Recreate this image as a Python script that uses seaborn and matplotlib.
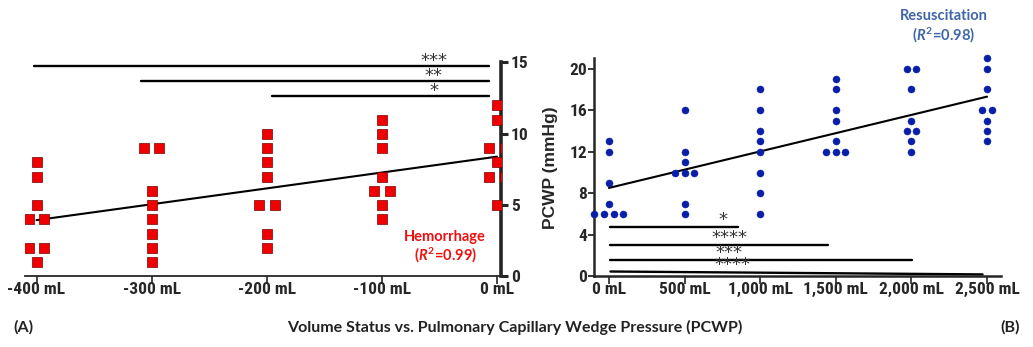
import numpy as np
import pandas as pd
import matplotlib
matplotlib.use("Agg")
import matplotlib.pyplot as plt
import seaborn as sns

# Hemorrhage (A): volume removed vs PCWP
hem_volumes = [-400, -300, -200, -100, 0]
hem_pcwp = [
    [8, 7, 5, 4, 4, 2, 2, 1],
    [9, 9, 6, 5, 4, 3, 2, 1],
    [10, 9, 8, 7, 5, 5, 3, 2],
    [11, 10, 9, 7, 6, 6, 5, 4],
    [12, 11, 9, 9, 8, 7, 7, 5],
]
hem_ticklabels = ["-400 mL", "-300 mL", "-200 mL", "-100 mL", "0 mL"]

# Resuscitation (B): volume given vs PCWP
res_volumes = [0, 500, 1000, 1500, 2000, 2500]
res_pcwp = [
    [13, 12, 9, 7, 6, 6, 6, 6],
    [16, 12, 11, 10, 10, 10, 7, 6],
    [18, 16, 14, 13, 12, 10, 8, 6],
    [19, 18, 16, 15, 13, 12, 12, 12],
    [20, 20, 18, 15, 14, 14, 13, 12],
    [21, 20, 18, 16, 16, 15, 14, 13],
]
res_ticklabels = ["0 mL", "500 mL", "1,000 mL", "1,500 mL", "2,000 mL", "2,500 mL"]

# significance bars: (start, end, y_start, y_end, stars, star_x)
hem_sig = [(-402, -7, 14.75, 14.75, "***", -55),
           (-309, -7, 13.7, 13.7, "**", -55),
           (-195, -7, 12.65, 12.65, "*", -55)]
res_sig = [(10, 850, 4.75, 4.75, "*", 752),
           (10, 1450, 3.05, 3.05, "****", 800),
           (10, 2006, 1.6, 1.6, "***", 794),
           (10, 2470, 0.48, 0.2, "****", 814)]


def to_frame(volumes, values):
    rows = [(v, p) for v, ps in zip(volumes, values) for p in ps]
    return pd.DataFrame(rows, columns=["volume", "pcwp"])


def spread(df, step):
    # side-by-side placement for tied values, like a column scatter
    off = np.zeros(len(df))
    for _, idx in df.groupby(["volume", "pcwp"]).groups.items():
        n = len(idx)
        off[np.asarray(idx)] = (np.arange(n) - (n - 1) / 2) * step
    return df["volume"] + off


hem_df = to_frame(hem_volumes, hem_pcwp)
hem_df["x"] = spread(hem_df, 13.5)
res_df = to_frame(res_volumes, res_pcwp)
res_df["x"] = spread(res_df, 64)

sns.set_style("ticks")
narrow = ["Liberation Sans Narrow", "Roboto Condensed", "DejaVu Sans Condensed",
          "Liberation Sans"]
plt.rcParams["font.family"] = narrow
plt.rcParams["mathtext.fontset"] = "custom"
plt.rcParams["mathtext.rm"] = "Lato:bold"
plt.rcParams["mathtext.it"] = "Lato:italic:bold"
plt.rcParams["mathtext.bf"] = "Lato:bold"

fig = plt.figure(figsize=(10.33, 3.47), dpi=100)
ax1 = fig.add_axes([0.0242, 0.2032, 0.4608, 0.6167])
ax2 = fig.add_axes([0.575, 0.2032, 0.394, 0.6288])

# ---- panel A
sns.regplot(data=hem_df, x="volume", y="pcwp", scatter=False, ci=None, truncate=True,
            color="black", line_kws={"lw": 1.5, "zorder": 2}, ax=ax1)
sns.scatterplot(data=hem_df, x="x", y="pcwp", marker="s", s=58, color="#f00000",
                edgecolor="#7a0000", linewidth=0.5, legend=False, zorder=3, ax=ax1)
ax1.set_xlim(-410, 3.5)
ax1.set_ylim(0, 15)
ax1.set_xticks(hem_volumes)
ax1.set_xticklabels(hem_ticklabels)
ax1.set_yticks([0, 5, 10, 15])
ax1.yaxis.tick_right()
ax1.spines["left"].set_visible(False)
ax1.spines["top"].set_visible(False)
ax1.spines["right"].set_linewidth(2.6)
ax1.spines["bottom"].set_linewidth(1.3)
ax1.tick_params(axis="y", length=5, width=2.2, labelsize=12.5, pad=2)
ax1.tick_params(axis="x", length=6, width=1.2, labelsize=12.5, pad=-2)
ax1.set_xlabel("")
ax1.set_ylabel("")
for x0, x1, y0, y1, stars, sx in hem_sig:
    ax1.plot([x0, x1], [y0, y1], color="black", lw=1.7, clip_on=False)
    ax1.annotate(stars, (sx, y0), xytext=(0, -0.3), textcoords="offset points",
                 ha="center", va="baseline", fontsize=13, color="#333333",
                 family="DejaVu Sans", annotation_clip=False)
ax1.text(-45, 2.8, "Hemorrhage", ha="center", va="center", color="#f01010",
         fontsize=10.5, family="Lato", fontweight="bold")
ax1.text(-45, 1.45, r"($R^2$=0.99)", ha="center", va="center", color="#f01010",
         fontsize=10.5, family="Lato", fontweight="bold")

# ---- panel B
sns.regplot(data=res_df, x="volume", y="pcwp", scatter=False, ci=None, truncate=True,
            color="black", line_kws={"lw": 1.5, "zorder": 2}, ax=ax2)
sns.scatterplot(data=res_df, x="x", y="pcwp", marker="o", s=26, color="#0a1fa8",
                edgecolor="#0a1fa8", linewidth=0.3, legend=False, zorder=3,
                clip_on=False, ax=ax2)
ax2.set_xlim(-99, 2592)
ax2.set_ylim(0, 21)
ax2.set_xticks(res_volumes)
ax2.set_xticklabels(res_ticklabels)
ax2.set_yticks(range(0, 21, 4))
ax2.spines["top"].set_visible(False)
ax2.spines["right"].set_visible(False)
ax2.spines["left"].set_linewidth(1.8)
ax2.spines["bottom"].set_linewidth(1.8)
ax2.tick_params(axis="y", length=4, width=1.3, labelsize=12.5, pad=1)
ax2.tick_params(axis="x", length=6, width=1.2, labelsize=12.5, pad=-2)
ax2.set_xlabel("")
ax2.set_ylabel("PCWP (mmHg)", fontsize=12.5, fontweight="bold",
               family="Liberation Sans", labelpad=8)
for x0, x1, y0, y1, stars, sx in res_sig:
    ax2.annotate(stars, (sx, y0), xytext=(0, 1.2), textcoords="offset points",
                 ha="center", va="baseline", fontsize=13, color="#333333",
                 family="DejaVu Sans", annotation_clip=False)
    ax2.plot([x0, x1], [y0, y1], color="black", lw=1.7, clip_on=False)

for ax in (ax1, ax2):
    plt.setp(ax.get_xticklabels() + ax.get_yticklabels(), fontweight="bold")

fig.text(944 / 1033, 1 - 16 / 347, "Resuscitation", ha="center", va="center",
         color="#3f66a6", fontsize=10.5, family="Lato", fontweight="bold")
fig.text(944 / 1033, 1 - 35 / 347, r"($R^2$=0.98)", ha="center", va="center",
         color="#3f66a6", fontsize=10.5, family="Lato", fontweight="bold")

fig.text(23 / 1033, 1 - 327 / 347, "(A)", ha="center", va="center",
         fontsize=11.5, family="Lato", fontweight="bold", color="#222222")
fig.text(515 / 1033, 1 - 327 / 347,
         "Volume Status vs. Pulmonary Capillary Wedge Pressure (PCWP)",
         ha="center", va="center", fontsize=11.5, family="Lato", fontweight="bold",
         color="#222222")
fig.text(1010 / 1033, 1 - 327 / 347, "(B)", ha="center", va="center",
         fontsize=11.5, family="Lato", fontweight="bold", color="#222222")

fig.savefig("out.png", dpi=100)
